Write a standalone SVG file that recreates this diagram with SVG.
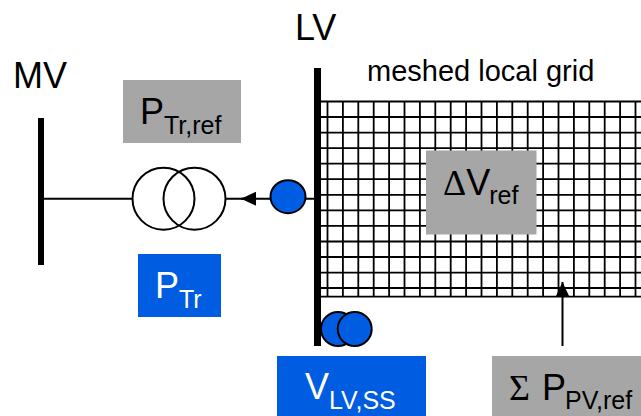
<svg xmlns="http://www.w3.org/2000/svg" width="641" height="416" viewBox="0 0 641 416">
<style>
text{font-family:"Liberation Sans",Arial,sans-serif;fill:#000}
.w{fill:#fff}
.big{font-size:36px}
.sub{font-size:25px}
.sym{font-family:"Liberation Serif","Times New Roman",serif}
.grey{fill:#a6a6a6}
.blue{fill:#005ce0}
.g{stroke:#000;stroke-width:1.8;fill:none}
.ln{stroke:#000;stroke-width:2;fill:none}
.c{fill:#005ce0;stroke:#000;stroke-width:2}
.t{fill:none;stroke:#000;stroke-width:2}
</style>
<defs><marker id="a" viewBox="0 0 15 14" refX="15" refY="7" markerWidth="15" markerHeight="14" markerUnits="userSpaceOnUse" orient="auto"><path d="M0 0L15 7L0 14z" fill="#000"/></marker></defs>
<g id="grid">
<path class="g" d="M321 101.5H641M321 117H641M321 132.6H641M321 148.1H641M321 163.7H641M321 179.2H641M321 194.8H641M321 210.4H641M321 225.9H641M321 241.5H641M321 257H641M321 272.6H641M321 288H641M321 296.7H641"/>
<path class="g" d="M327.5 101V297M342.9 101V297M358.3 101V297M373.7 101V297M389.1 101V297M404.5 101V297M419.9 101V297M435.3 101V297M450.7 101V297M466.1 101V297M481.5 101V297M496.9 101V297M512.3 101V297M527.7 101V297M543.1 101V297M558.5 101V297M573.9 101V297M589.3 101V297M604.7 101V297M620.1 101V297M635.5 101V297"/>
</g>
<g id="connectors">
<path class="ln" d="M44 198.7H132"/>
<path class="ln" d="M226 198.7H314"/>
<path class="ln" d="M256 198.7H241" marker-end="url(#a)"/>
<path class="ln" d="M562.5 346V282" marker-end="url(#a)"/>
</g>
<g id="mv-bus"><rect x="38" y="118" width="6" height="147"/><text class="big" x="13" y="88">MV</text></g>
<g id="lv-bus"><rect x="314" y="68" width="7" height="278"/><text class="big" x="295" y="40">LV</text></g>
<g id="grid-label"><text x="367" y="81" font-size="29">meshed local grid</text></g>
<g id="transformer"><circle class="t" cx="163.5" cy="198.7" r="31"/><circle class="t" cx="194.5" cy="198.7" r="31"/></g>
<g id="meter-p"><ellipse class="c" cx="288" cy="196.7" rx="17.5" ry="16.5"/></g>
<g id="meter-v"><circle class="c" cx="338" cy="329" r="17"/><circle class="c" cx="354.7" cy="329" r="17"/></g>
<g id="p-tr-ref"><rect class="grey" x="123" y="80" width="118" height="63"/><text class="big" x="140" y="124">P<tspan class="sub" dy="10">Tr,ref</tspan></text></g>
<g id="p-tr"><rect class="blue" x="138" y="254" width="83" height="63"/><text class="big w" x="155" y="298">P<tspan class="sub" dy="10">Tr</tspan></text></g>
<g id="dv-ref"><rect class="grey" x="426" y="150.5" width="110.5" height="84"/><text class="big" x="443" y="195"><tspan class="sym">Δ</tspan>V<tspan class="sub" dy="9" dx="-1">ref</tspan></text></g>
<g id="v-lv-ss"><rect class="blue" x="277" y="356" width="149" height="60"/><text class="big w" x="305" y="399">V<tspan class="sub" dy="10">LV,SS</tspan></text></g>
<g id="sum-p-pv-ref"><rect class="grey" x="492" y="356" width="149" height="60"/><text class="big" x="509" y="400"><tspan class="sym">Σ</tspan><tspan dx="2"> P</tspan><tspan class="sub" dy="9" dx="-1">PV,ref</tspan></text></g>
</svg>
